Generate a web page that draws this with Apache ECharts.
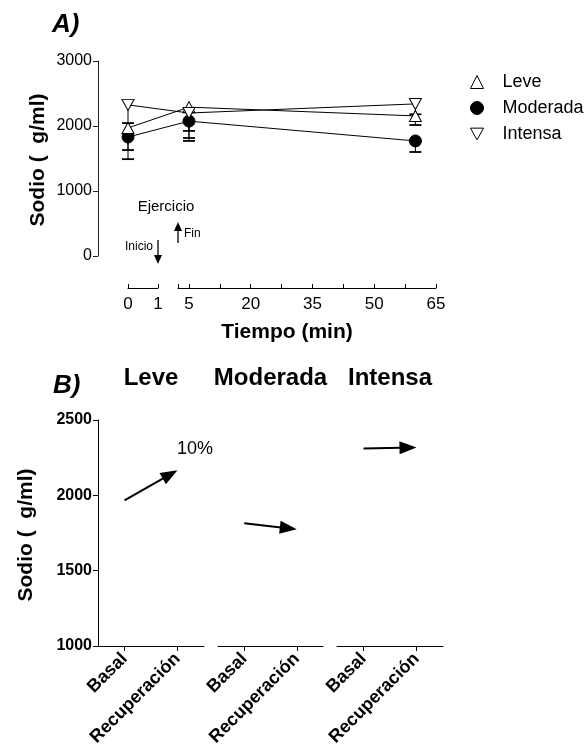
<!DOCTYPE html>
<html>
<head>
<meta charset="utf-8">
<script src="https://cdn.jsdelivr.net/npm/echarts@6.0.0/dist/echarts.min.js"></script>
<style>
html, body { margin: 0; padding: 0; background: #fff; }
#chart { width: 586px; height: 755px; }
</style>
</head>
<body>
<div id="chart"></div>
<script>
// ---- panel A: sodio vs tiempo ----
const times = [0, 5, 60];
const leve = [1970, 2290, 2155];
const leveLow = [1630, 1925, 2015];
const moderada = [1830, 2075, 1770];
const moderadaLow = [1490, 1770, 1600];
const intensa = [2325, 2200, 2340];
const intensaLow = [2045, 1815, 2180];
const yTicksA = [0, 1000, 2000, 3000];
const seg2Labels = [5, 20, 35, 50, 65];
const seg2Ticks = [2.33, 5, 12.5, 20, 27.5, 35, 42.5, 50, 57.5, 65];
// exercise markers: [time, from value, to value]
const exMarks = [[1, 246, -123], [2.33, 200, 523]];

// ---- panel B: basal -> recuperacion ----
const groups = ['Leve', 'Moderada', 'Intensa'];
const phases = ['Basal', 'Recuperación'];
const basal = [1967, 1815, 2311];
const recup = [2166, 1775, 2318];

const FONT = '"Liberation Sans", Arial, Helvetica, sans-serif';

// broken time axis: 0-1 min stretched, then 2.33-65
const A_LEFT = 128, SEG1_W = 30, GAP = 20, A_RIGHT = 436;
const SEG2_MIN = 2.33, X_MAX = 65;
const pxPerMin = (A_RIGHT - A_LEFT - SEG1_W - GAP) / (X_MAX - SEG2_MIN);
const vMin = SEG2_MIN - (SEG1_W + GAP) / pxPerMin;
function brk(t) {
  return t <= 1 ? vMin + t * SEG1_W / pxPerMin : t;
}

function arrow(p1, p2, len, hw, lw) {
  const dx = p2[0] - p1[0], dy = p2[1] - p1[1];
  const d = Math.sqrt(dx * dx + dy * dy);
  const ux = dx / d, uy = dy / d;
  const bx = p2[0] - ux * len, by = p2[1] - uy * len;
  return {
    type: 'group',
    children: [
      { type: 'line', shape: { x1: p1[0], y1: p1[1], x2: bx + ux, y2: by + uy },
        style: { stroke: '#000', lineWidth: lw } },
      { type: 'polygon',
        shape: { points: [[p2[0], p2[1]], [bx - uy * hw, by + ux * hw], [bx + uy * hw, by - ux * hw]] },
        style: { fill: '#000' } }
    ]
  };
}

function errRender(params, api) {
  const x = api.value(0);
  const top = api.coord([x, api.value(1)]);
  const bot = api.coord([x, api.value(2)]);
  return {
    type: 'group',
    children: [
      { type: 'line', shape: { x1: top[0], y1: top[1], x2: bot[0], y2: bot[1] },
        style: { stroke: '#000', lineWidth: 1 } },
      { type: 'line', shape: { x1: bot[0] - 6, y1: bot[1], x2: bot[0] + 6, y2: bot[1] },
        style: { stroke: '#000', lineWidth: 1.8 } }
    ]
  };
}

function errData(mean, low) {
  return times.map((t, i) => [brk(t), mean[i], low[i]]);
}
function lineData(vals) {
  return times.map((t, i) => [brk(t), vals[i]]);
}

const downTri = 'path://M0,0L10,0L5,9Z';
const plain = v => String(v);

const grids = [
  { left: A_LEFT, width: A_RIGHT - A_LEFT, top: 61, height: 195 },
  { left: A_LEFT, width: SEG1_W, top: 279, height: 9 },
  { left: A_LEFT + SEG1_W + GAP, width: A_RIGHT - A_LEFT - SEG1_W - GAP, top: 279, height: 9 },
  { left: 98, width: 106, top: 420, height: 226 },
  { left: 218, width: 105, top: 420, height: 226 },
  { left: 337, width: 106, top: 420, height: 226 }
].map(g => Object.assign({ outerBoundsMode: 'none', containLabel: false }, g));

const axisLine = { show: true, onZero: false, lineStyle: { color: '#000', width: 1 } };

const xAxes = [
  { gridIndex: 0, type: 'value', min: vMin, max: X_MAX, show: false },
  { gridIndex: 1, type: 'value', min: 0, max: 1, interval: 1,
    axisLine: axisLine, splitLine: { show: false },
    axisTick: { inside: true, length: 4, lineStyle: { color: '#000' } },
    axisLabel: { color: '#000', fontSize: 17, margin: 8, fontFamily: FONT, formatter: plain } },
  { gridIndex: 2, type: 'value', min: SEG2_MIN, max: X_MAX,
    axisLine: axisLine, splitLine: { show: false },
    axisTick: { inside: true, length: 4, lineStyle: { color: '#000' }, customValues: seg2Ticks },
    axisLabel: { color: '#000', fontSize: 17, margin: 8, fontFamily: FONT, customValues: seg2Labels,
      formatter: plain } }
];
const yAxes = [
  { gridIndex: 0, type: 'value', min: yTicksA[0], max: yTicksA[yTicksA.length - 1], interval: 1000,
    offset: A_LEFT - 98,
    axisLine: { show: true, onZero: false, lineStyle: { color: '#222', width: 1 } },
    splitLine: { show: false },
    axisTick: { show: true, length: 5, lineStyle: { color: '#222' } },
    axisLabel: { color: '#000', fontSize: 16, margin: 6, fontFamily: FONT, formatter: plain } },
  { gridIndex: 1, type: 'value', show: false },
  { gridIndex: 2, type: 'value', show: false }
];
for (let i = 0; i < 3; i++) {
  xAxes.push({
    gridIndex: 3 + i, type: 'category', data: phases, boundaryGap: true,
    axisLine: axisLine,
    axisTick: { show: true, alignWithLabel: true, length: 5, lineStyle: { color: '#000' } },
    axisLabel: { interval: 0, rotate: 45, color: '#000', fontSize: 18, fontWeight: 'bold',
      margin: 10, fontFamily: FONT }
  });
  yAxes.push({
    gridIndex: 3 + i, type: 'value', min: 1000, max: 2500, interval: 500, show: i === 0,
    axisLine: axisLine, splitLine: { show: false },
    axisTick: { show: true, length: 5, lineStyle: { color: '#000' } },
    axisLabel: { color: '#000', fontSize: 16, fontWeight: 'bold', margin: 6, fontFamily: FONT,
      formatter: plain }
  });
}

const series = [
  { type: 'custom', name: 'errM', xAxisIndex: 0, yAxisIndex: 0, z: 1, renderItem: errRender,
    data: errData(moderada, moderadaLow) },
  { type: 'custom', name: 'errL', xAxisIndex: 0, yAxisIndex: 0, z: 1, renderItem: errRender,
    data: errData(leve, leveLow) },
  { type: 'custom', name: 'errI', xAxisIndex: 0, yAxisIndex: 0, z: 1, renderItem: errRender,
    data: errData(intensa, intensaLow) },
  { type: 'line', name: 'Moderada', xAxisIndex: 0, yAxisIndex: 0, z: 3,
    symbol: 'circle', symbolSize: 12, showAllSymbol: true,
    lineStyle: { color: '#000', width: 1 },
    itemStyle: { color: '#000', borderColor: '#000', borderWidth: 1 },
    data: lineData(moderada) },
  { type: 'line', name: 'Leve', xAxisIndex: 0, yAxisIndex: 0, z: 4,
    symbol: 'triangle', symbolSize: [12, 11],
    lineStyle: { color: '#000', width: 1 },
    itemStyle: { color: '#fff', borderColor: '#000', borderWidth: 1 },
    data: lineData(leve) },
  { type: 'line', name: 'Intensa', xAxisIndex: 0, yAxisIndex: 0, z: 5,
    symbol: downTri, symbolSize: [12, 11],
    lineStyle: { color: '#000', width: 1 },
    itemStyle: { color: '#fff', borderColor: '#000', borderWidth: 1 },
    data: lineData(intensa) },
  { type: 'custom', name: 'ejercicio', xAxisIndex: 0, yAxisIndex: 0, z: 2, clip: false,
    data: exMarks.map(m => [brk(m[0]), m[1], m[2]]),
    renderItem: function (params, api) {
      const x = api.value(0);
      return arrow(api.coord([x, api.value(1)]), api.coord([x, api.value(2)]), 9, 4, 1.3);
    } }
];
for (let i = 0; i < 3; i++) {
  series.push({
    type: 'custom', name: 'flecha' + groups[i], xAxisIndex: 3 + i, yAxisIndex: 3 + i, clip: false,
    data: [[0, basal[i], 1, recup[i]]],
    renderItem: function (params, api) {
      return arrow(api.coord([api.value(0), api.value(1)]),
        api.coord([api.value(2), api.value(3)]), 17, 6.5, 2);
    }
  });
}

function txt(text, x, y, size, opts) {
  return Object.assign({
    type: 'text', x: x, y: y, silent: true,
    style: Object.assign({ text: text, fill: '#000', font: size + 'px ' + FONT,
      align: 'center', verticalAlign: 'middle' }, (opts && opts.style) || {})
  }, (opts && opts.el) || {});
}

const graphics = [
  txt('A)', 52, 25, 26, { style: { font: 'italic bold 26px ' + FONT, align: 'left' } }),
  txt('B)', 53, 386, 26, { style: { font: 'italic bold 26px ' + FONT, align: 'left' } }),
  txt('Sodio (  g/ml)', 38, 160, 21, { style: { font: 'bold 21px ' + FONT }, el: { rotation: Math.PI / 2 } }),
  txt('Sodio (  g/ml)', 26, 535, 21, { style: { font: 'bold 21px ' + FONT }, el: { rotation: Math.PI / 2 } }),
  txt('Tiempo (min)', 287, 332, 21, { style: { font: 'bold 21px ' + FONT } }),
  txt('Ejercicio', 166, 207, 15),
  txt('Inicio', 153, 247, 12, { style: { align: 'right' } }),
  txt('Fin', 184, 234, 12, { style: { align: 'left' } }),
  txt('10%', 177, 449, 18, { style: { align: 'left' } })
];
groups.forEach((g, i) => {
  const gr = grids[3 + i];
  graphics.push(txt(g, gr.left + gr.width / 2, 378, 24, { style: { font: 'bold 24px ' + FONT } }));
});

const chart = echarts.init(document.getElementById('chart'));
chart.setOption({
  animation: false,
  backgroundColor: '#fff',
  textStyle: { fontFamily: FONT, color: '#000' },
  grid: grids,
  xAxis: xAxes,
  yAxis: yAxes,
  legend: {
    orient: 'vertical', left: 465, top: 68, itemWidth: 13, itemHeight: 13, itemGap: 8,
    selectedMode: false,
    textStyle: { fontSize: 18, color: '#000', fontFamily: FONT, padding: [0, 0, 0, 14] },
    data: [
      { name: 'Leve', icon: 'triangle', itemStyle: { color: '#fff', borderColor: '#000', borderWidth: 1 } },
      { name: 'Moderada', icon: 'circle', itemStyle: { color: '#000', borderColor: '#000', borderWidth: 1 } },
      { name: 'Intensa', icon: downTri, itemStyle: { color: '#fff', borderColor: '#000', borderWidth: 1 } }
    ]
  },
  graphic: graphics,
  series: series
});
</script>
</body>
</html>
